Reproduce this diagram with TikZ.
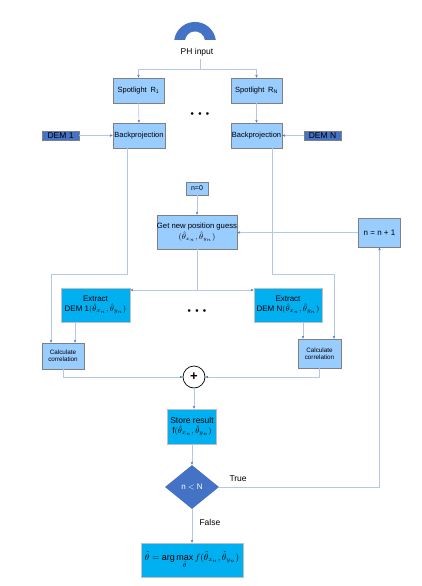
\documentclass[tikz,border=0pt]{standalone}
\usepackage{fontspec}
\setmainfont{Liberation Sans}
\usetikzlibrary{arrows.meta,shapes.geometric}

\definecolor{paleblue}{HTML}{99CCFF}
\definecolor{cyanblue}{HTML}{00B0F0}
\definecolor{darkblue}{HTML}{4472C4}
\definecolor{wireblue}{HTML}{B4C7E7}
\newcommand{\setfs}[1]{\fontsize{#1}{1.15\dimexpr#1pt\relax}\selectfont}
\newcommand{\thxy}{$(\hat{\theta}_{x_n},\hat{\theta}_{y_n})$}

\tikzset{
  lightbox/.style={draw=gray, line width=0.5pt, fill=paleblue, inner sep=0pt, align=center},
  brightbox/.style={draw=gray!50, line width=0.5pt, fill=cyanblue, inner sep=0pt, align=center},
  tagbox/.style={draw=gray, line width=0.4pt, fill=darkblue, inner sep=0pt,
    minimum width=37pt, minimum height=9pt, font=\setfs{8.5}},
  wire/.style={draw=wireblue, line width=0.6pt},
  arr/.style={wire, -{Stealth[length=3pt,width=2.4pt,color=darkblue]}},
  dotrow/.style={font=\setfs{6}},
}

\begin{document}
\begin{tikzpicture}[x=1pt, y=-1pt]
    \useasboundingbox (0,0) rectangle (422,586);
    % Input symbol
    \fill[darkblue] (174.2,40) arc[start angle=172, end angle=8, radius=21pt]
      -- (204.9,40) arc[start angle=8, end angle=172, radius=10pt] -- cycle;
    \node[font=\setfs{8.5}] (ph) at (197,52) {PH input};
    % Spotlights
    \node[lightbox, minimum width=51pt, minimum height=25pt, font=\setfs{7.5}] (spot1) at (138.5,90.5) {Spotlight\enspace R\textsubscript{1}};
    \node[lightbox, minimum width=51pt, minimum height=25pt, font=\setfs{7.5}] (spotN) at (256.5,90.5) {Spotlight\enspace R\textsubscript{N}};
    \node[dotrow] (dotsA) at (200,114) {$\bullet\;\bullet\;\bullet$};
    % Backprojection
    \node[lightbox, minimum width=52pt, minimum height=25pt, font=\setfs{7.5}] (bp1) at (139,135.5) {\makebox[0pt]{Backprojection}};
    \node[lightbox, minimum width=51pt, minimum height=25pt, font=\setfs{7.5}] (bpN) at (256.5,135.5) {\makebox[0pt]{Backprojection}};
    \node[tagbox] (dem1) at (60.5,135.5) {DEM 1};
    \node[tagbox] (demN) at (322.5,135.5) {DEM N};
    % Search loop
    \node[lightbox, minimum width=22pt, minimum height=13pt, font=\setfs{7}] (n0) at (197,188.5) {n=0};
    \node[lightbox, minimum width=80pt, minimum height=34pt, font=\setfs{7.7}] (guess) at (197,232) {\makebox[0pt]{Get new position guess}\\[1pt] \thxy};
    \node[lightbox, minimum width=42pt, minimum height=29pt, font=\setfs{8}] (inc) at (379.5,232.5) {n = n + 1};
    % Extract
    \node[brightbox, minimum width=69pt, minimum height=34pt, font=\setfs{8}] (ext1) at (95.5,305) {Extract\\[1pt] DEM 1\thxy};
    \node[brightbox, minimum width=68pt, minimum height=34pt, font=\setfs{8}] (extN) at (288,305) {Extract\\[1pt] DEM N\thxy};
    \node[dotrow] (dotsB) at (197,311) {$\bullet\;\bullet\;\bullet$};
    % Correlation
    \node[lightbox, minimum width=42pt, minimum height=26pt, font=\setfs{6.3}] (cc1) at (63,356) {Calculate\\correlation};
    \node[lightbox, minimum width=43pt, minimum height=29pt, font=\setfs{6.3}] (ccN) at (319.5,353.5) {Calculate\\correlation};
    \node[draw, circle, line width=0.7pt, fill=white, minimum size=22pt, inner sep=0pt, font=\setfs{13}\bfseries] (sum) at (194,377) {+};
    % Result
    \node[brightbox, minimum width=49pt, minimum height=35pt, font=\setfs{8.5}] (store) at (192,426.5) {\makebox[0pt]{Store result}\\[1pt] f\thxy};
    \node[diamond, fill=darkblue, text=white, minimum width=54pt, minimum height=44pt, inner sep=0pt, font=\setfs{8}] (cond) at (192,487) {n $<$ N};
    \node[brightbox, minimum width=102pt, minimum height=34pt, font=\setfs{9}] (res) at (192,560) {$\hat{\theta}=\arg\max\limits_{\hat{\theta}} f(\hat{\theta}_{x_n},\hat{\theta}_{y_n})$};
    \node[font=\setfs{8.5}, anchor=west] (truelbl) at (226,479) {True};
    \node[font=\setfs{8.5}, anchor=west] (falselbl) at (196,522) {False};
    % Connectors
    \coordinate (phsplit) at (200,69);
    \draw[wire] (ph.south -| phsplit) -- (phsplit);
    \draw[arr] (phsplit) -| (spot1.north);
    \draw[arr] (phsplit) -| (spotN.north);
    \draw[arr] (spot1) -- (bp1);
    \draw[arr] (spotN) -- (bpN);
    \draw[arr] (dem1) -- (bp1);
    \draw[arr] (demN) -- (bpN);
    \coordinate (bend1) at (51,274);
    \coordinate (bendN) at (334,274);
    \draw[arr] (127,0 |- bp1.south) |- (bend1) -- (bend1 |- cc1.north);
    \draw[arr] (272,0 |- bpN.south) |- (bendN) -- (bendN |- ccN.north);
    \draw[arr] (n0) -- (guess);
    \draw[arr] (inc.west) -- (inc.west -| guess.east);
    \coordinate (extsplit) at (197,290);
    \draw[wire] (guess.south) -- (extsplit);
    \draw[arr] (extsplit) -- (extsplit -| ext1.east);
    \draw[arr] (extsplit) -- (extsplit -| extN.west);
    \draw[arr] (75,0 |- ext1.south) -- (75,0 |- cc1.north);
    \draw[arr] (303,0 |- extN.south) -- (303,0 |- ccN.north);
    \draw[arr] (cc1.south) |- (sum.west);
    \draw[arr] (ccN.south) |- (sum.east);
    \draw[arr] (sum.south) -- (sum.south |- store.north);
    \draw[arr] (store.south) -- (cond.north);
    \draw[arr] (cond.east) -| (inc.south);
    \draw[arr] (cond.south) -- (res.north);
\end{tikzpicture}
\end{document}
